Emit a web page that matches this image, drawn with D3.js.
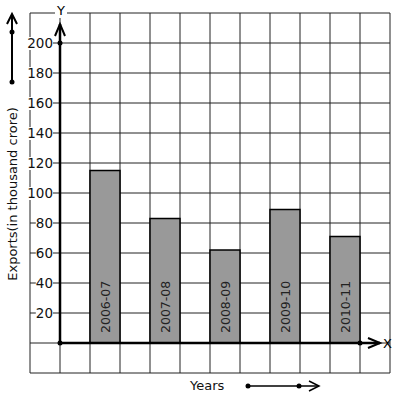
<!DOCTYPE html>
<html>
<head>
<meta charset="utf-8">
<script src="https://cdn.jsdelivr.net/npm/d3@7"></script>
<style>
  body { margin: 0; background: #fff; }
  text { font-family: "DejaVu Sans", sans-serif; }
</style>
</head>
<body>
<svg width="397" height="399"></svg>
<script>
const years = ["2006-07", "2007-08", "2008-09", "2009-10", "2010-11"];
const exports = [115, 83, 62, 89, 71];
const yTicks = [20, 40, 60, 80, 100, 120, 140, 160, 180, 200];

const svg = d3.select("svg");

// grid squares are 30px, 12 x 12, one row/column outside the axes
const x = d3.scaleLinear().domain([-1, 11]).range([30, 390]);
const y = d3.scaleLinear().domain([-20, 220]).range([373, 13]);

const grid = svg.append("g").attr("stroke", "#222").attr("stroke-width", 1);
d3.range(-1, 12).forEach((i) => {
  grid.append("line")
    .attr("x1", x(i)).attr("x2", x(i))
    .attr("y1", y(-20)).attr("y2", y(220));
});
d3.range(-20, 240, 20).forEach((v) => {
  grid.append("line")
    .attr("x1", x(-1)).attr("x2", x(11))
    .attr("y1", y(v)).attr("y2", y(v));
});

// bars, one per odd column
svg.append("g")
  .selectAll("rect")
  .data(exports)
  .enter()
  .append("rect")
  .attr("x", (d, i) => x(1 + 2 * i))
  .attr("width", x(1) - x(0))
  .attr("y", (d) => y(d))
  .attr("height", (d) => y(0) - y(d))
  .attr("fill", "#999")
  .attr("stroke", "#000")
  .attr("stroke-width", 1.5);

svg.append("g")
  .selectAll("text")
  .data(years)
  .enter()
  .append("text")
  .attr("transform", (d, i) =>
    "translate(" + (x(1.5 + 2 * i) + 4.5) + "," + (y(0) - 10) + ") rotate(-90)")
  .attr("font-size", 12.5)
  .attr("fill", "#222")
  .text((d) => d);

// tick labels with white boxes over the grid
const tl = svg.append("g");
yTicks.forEach((v) => {
  const t = tl.append("text")
    .attr("x", 53).attr("y", y(v) + 5)
    .attr("text-anchor", "end")
    .attr("font-size", 13.5)
    .attr("fill", "#111")
    .text(v);
  const b = t.node().getBBox();
  tl.insert("rect", "text")
    .attr("x", b.x).attr("y", b.y + 2)
    .attr("width", b.width).attr("height", b.height - 3)
    .attr("fill", "#fff");
});

// axes
const ax = svg.append("g").attr("stroke", "#000").attr("fill", "none");
ax.append("line")
  .attr("x1", x(0)).attr("x2", x(0))
  .attr("y1", y(0)).attr("y2", 24)
  .attr("stroke-width", 2.5);
ax.append("path")
  .attr("d", "M" + (x(0) - 5) + ",36 L" + x(0) + ",24 L" + (x(0) + 5) + ",36")
  .attr("stroke-width", 2);
ax.append("line")
  .attr("x1", x(0)).attr("x2", 380)
  .attr("y1", y(0)).attr("y2", y(0))
  .attr("stroke-width", 2.5);
ax.append("path")
  .attr("d", "M368," + (y(0) - 5) + " L380," + y(0) + " L368," + (y(0) + 5))
  .attr("stroke-width", 2);

svg.append("g")
  .selectAll("circle")
  .data([[x(0), y(0)], [x(0), y(200)], [x(10), y(0)]])
  .enter()
  .append("circle")
  .attr("cx", (d) => d[0]).attr("cy", (d) => d[1])
  .attr("r", 2.5).attr("fill", "#000");

// axis letters
svg.append("rect").attr("x", 55).attr("y", 8).attr("width", 12).attr("height", 10).attr("fill", "#fff");
svg.append("text").attr("x", 61).attr("y", 15).attr("text-anchor", "middle")
  .attr("font-size", 13).text("Y");
svg.append("text").attr("x", 383).attr("y", y(0) + 5)
  .attr("font-size", 13).text("X");

// axis titles
svg.append("text")
  .attr("transform", "translate(17,194) rotate(-90)")
  .attr("text-anchor", "middle")
  .attr("font-size", 13)
  .attr("fill", "#111")
  .text("Exports(in thousand crore)");
svg.append("text")
  .attr("x", 190).attr("y", 390)
  .attr("font-size", 13)
  .attr("fill", "#111")
  .text("Years");

// direction arrows
const da = svg.append("g").attr("stroke", "#000").attr("fill", "none").attr("stroke-width", 2);
da.append("line").attr("x1", 12).attr("x2", 12).attr("y1", 82).attr("y2", 14);
da.append("path").attr("d", "M7,24 L12,14 L17,24");
da.append("line").attr("x1", 248).attr("x2", 319).attr("y1", 386).attr("y2", 386).attr("stroke-width", 1.5);
da.append("path").attr("d", "M309,381 L319,386 L309,391").attr("stroke-width", 1.5);
svg.append("g")
  .selectAll("circle")
  .data([[12, 82], [12, 32], [248, 386], [299, 386]])
  .enter()
  .append("circle")
  .attr("cx", (d) => d[0]).attr("cy", (d) => d[1])
  .attr("r", 2.5).attr("fill", "#000");
</script>
</body>
</html>
